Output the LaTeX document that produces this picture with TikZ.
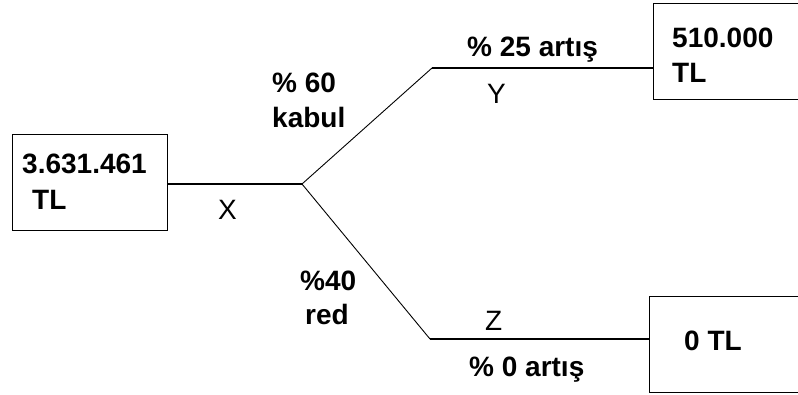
\documentclass[tikz,border=0pt]{standalone}
\usepackage{fontspec}
\setmainfont{Liberation Sans}
\begin{document}
\begin{tikzpicture}[x=1pt,y=-1pt,
  box/.style={draw, line width=1.4pt, inner sep=0pt, anchor=north west},
  lbl/.style={font=\fontsize{28}{32}\selectfont\bfseries, anchor=base west, inner sep=0pt},
  var/.style={font=\fontsize{28}{32}\selectfont, anchor=base west, inner sep=0pt},
  conn/.style={line width=1.3pt},
  diag/.style={line width=0.9pt}]
\useasboundingbox (0,0) rectangle (798,394);
% boxes
\node[box, minimum width=155pt, minimum height=96pt] (start) at (12,134) {};
\node[box, minimum width=170pt, minimum height=96pt] (yb) at (653,3) {};
\node[box, minimum width=170pt, minimum height=96pt] (zb) at (649,296) {};
% junctions
\coordinate (j) at (302,184);
\coordinate (ya) at (432,68);
\coordinate (za) at (430,339);
% connectors
\draw[conn] (j -| start.east) -- (j);
\draw[diag] (j) -- (ya);
\draw[conn] (ya) -- (ya -| yb.west);
\draw[diag] (j) -- (za);
\draw[conn] (za) -- (za -| zb.west);
% texts
\node[lbl] (t1) at (22,173) {3.631.461};
\node[lbl] (t2) at (32,209) {TL};
\node[var] (x) at (218,219) {X};
\node[lbl] (p60) at (272,92) {\% 60};
\node[lbl] (kab) at (272,127) {kabul};
\node[lbl] (a25) at (467,56) {\% 25 artış};
\node[var] (y) at (487,103) {Y};
\node[lbl] (p40) at (300,290) {\%40};
\node[lbl] (red) at (305,324) {red};
\node[var] (z) at (485,330) {Z};
\node[lbl] (a0) at (469,376) {\% 0 artış};
\node[lbl] (v1) at (672,47) {510.000};
\node[lbl] (v2) at (672,82) {TL};
\node[lbl] (v3) at (684,350) {0 TL};
\end{tikzpicture}
\end{document}
